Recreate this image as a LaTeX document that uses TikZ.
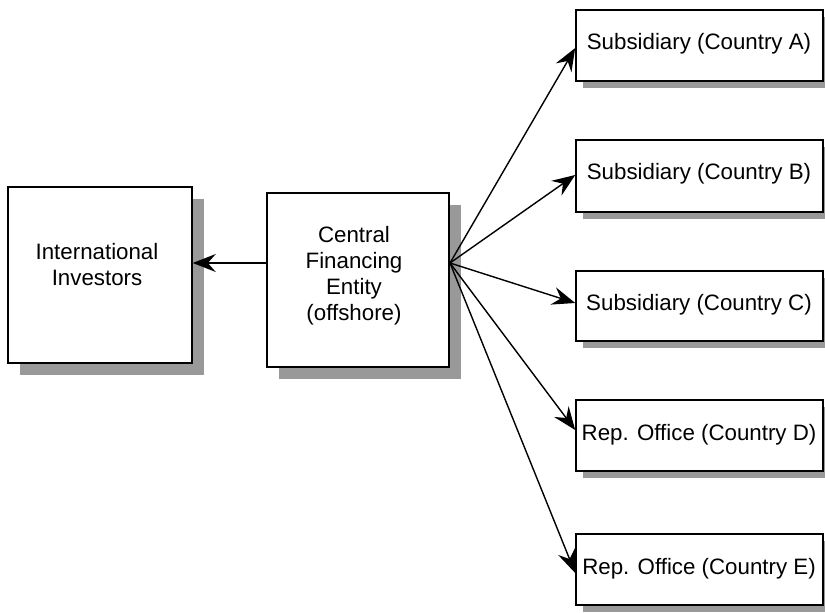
\documentclass[tikz,border=0pt]{standalone}
\usepackage{fontspec}
\setmainfont{Liberation Sans}
\usetikzlibrary{arrows.meta,shadows}
\begin{document}
\begin{tikzpicture}[x=1pt,y=-1pt,
  box/.style={draw=black, line width=1.6pt, fill=white, inner sep=0pt},
  bigshadow/.style={general shadow={fill=black!40, shadow xshift=12pt, shadow yshift=-12pt}},
  smallshadow/.style={general shadow={fill=black!40, shadow xshift=7pt, shadow yshift=-7pt}},
  lbl/.style={font=\fontsize{22.3}{26}\selectfont, align=center, inner sep=0pt},
  arr/.style={line width=1.4pt, -{Stealth[length=23pt, width=18pt, inset=8pt]}}
]
\clip (0,0) rectangle (825,613);
\fill[white] (0,0) rectangle (825,613);

% left boxes
\node[box, bigshadow, minimum width=184pt, minimum height=176pt] (inv) at (100,275) {};
\node[lbl] (invt) at (97,264.5) {International\\Investors};
\node[box, bigshadow, minimum width=182pt, minimum height=174pt] (cfe) at (358,280) {};
\node[lbl] (cfet) at (354,275.5) {Central\\Financing\\Entity\\(offshore)};

% right boxes
\node[box, smallshadow, minimum width=247pt, minimum height=71pt] (a) at (699.5,45.5) {};
\node[lbl] (at) at (699,44) {Subsidiary (Country A)};
\node[box, smallshadow, minimum width=247pt, minimum height=72pt] (b) at (699.5,176) {};
\node[lbl] (bt) at (699,174) {Subsidiary (Country B)};
\node[box, smallshadow, minimum width=247pt, minimum height=70pt] (c) at (699.5,306) {};
\node[lbl] (ct) at (699,305) {Subsidiary (Country C)};
\node[box, smallshadow, minimum width=247pt, minimum height=71pt] (d) at (699.5,435.5) {};
\node[lbl] (dt) at (699,435) {Rep. Office (Country D)};
\node[box, smallshadow, minimum width=247pt, minimum height=71pt] (e) at (699.5,569.5) {};
\node[lbl] (et) at (699,569) {Rep. Office (Country E)};

% connectors
\coordinate (hub) at (450,263);
\draw[arr] (cfe.west |- hub) -- (inv.east |- hub);
\draw[arr] (hub) -- (a.west |- 0,48);
\draw[arr] (hub) -- (b.west |- 0,175);
\draw[arr] (hub) -- (c.west |- 0,303);
\draw[arr] (hub) -- (d.west |- 0,430);
\draw[arr] (hub) -- (e.west |- 0,573);
\end{tikzpicture}
\end{document}
